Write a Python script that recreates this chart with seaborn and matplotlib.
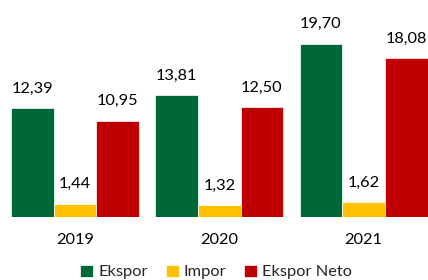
import pandas as pd
import seaborn as sns
from matplotlib import pyplot as plt

# data
years = ["2019", "2020", "2021"]
ekspor = [12.39, 13.81, 19.70]
impor = [1.44, 1.32, 1.62]
ekspor_neto = [10.95, 12.50, 18.08]
series_names = ["Ekspor", "Impor", "Ekspor Neto"]
colors = ["#006837", "#FFC000", "#C00000"]

df = pd.DataFrame({
    "tahun": years * 3,
    "jenis": [s for s in series_names for _ in years],
    "nilai": ekspor + impor + ekspor_neto,
})

sns.set_theme(style="white")
plt.rcParams["font.family"] = ["Lato", "DejaVu Sans"]

fig = plt.figure(figsize=(4.28, 2.8), dpi=100)
ax = fig.add_axes([0, 63.5 / 280, 1, 216.5 / 280])

sns.barplot(data=df, x="tahun", y="nilai", hue="jenis", palette=colors,
            width=0.887, saturation=1, edgecolor="white", linewidth=0.5,
            ax=ax, legend=True)

for cont in ax.containers:
    ax.bar_label(cont, labels=[f"{v:.2f}".replace(".", ",") for v in cont.datavalues],
                 padding=9, fontsize=11.8, color="black")

ax.set_xlim(-0.52, 2.446)
ax.set_ylim(0, 24.7)
ax.set_xlabel("")
ax.set_ylabel("")
ax.set_yticks([])
ax.tick_params(axis="x", length=0, pad=12, labelsize=11.8, labelcolor="black")
sns.despine(ax=ax, left=True, bottom=True)

handles, labels = ax.get_legend_handles_labels()
ax.get_legend().remove()
fig.legend(handles, labels, loc="center", bbox_to_anchor=(0.505, 8 / 280), ncol=3,
           frameon=False, fontsize=11.8, handlelength=0.8, handleheight=0.8,
           handletextpad=0.3, columnspacing=1.1, borderaxespad=0)

fig.savefig("out.png", dpi=100)
